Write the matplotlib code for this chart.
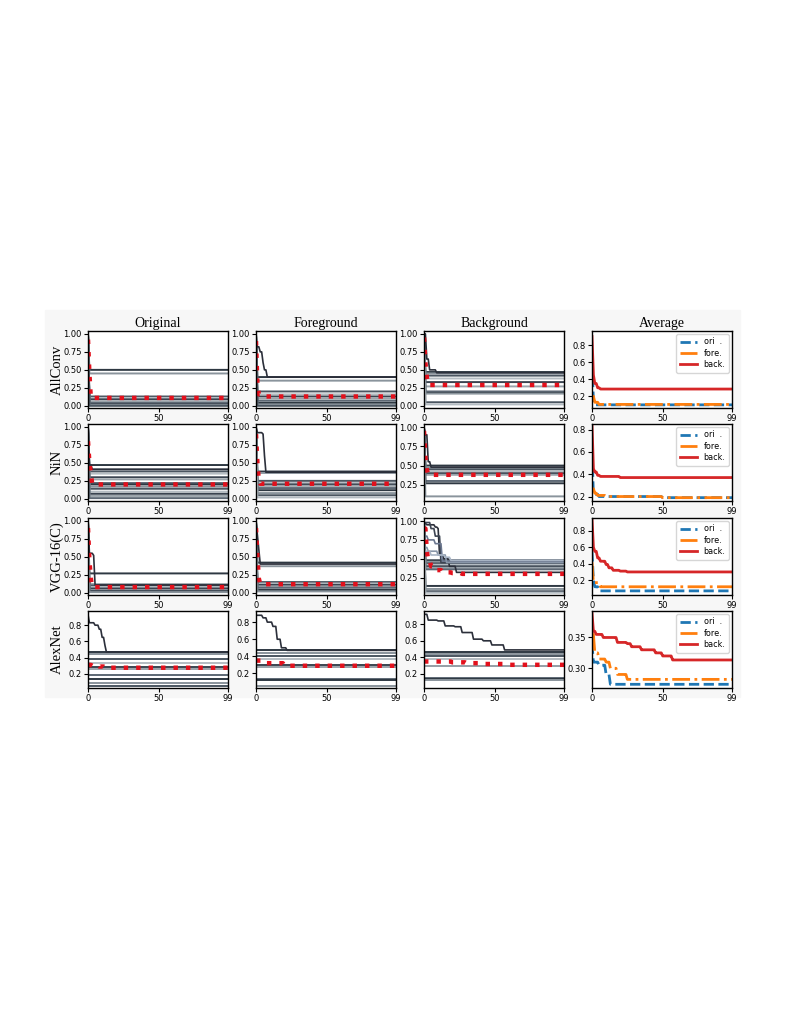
import numpy as np
import matplotlib.pyplot as plt
from matplotlib.patches import Rectangle

models = ["AllConv", "NiN", "VGG-16(C)", "AlexNet"]
columns = ["Original", "Foreground", "Background", "Average"]
legend_labels = ["ori  .", "fore.", "back."]

# flat gray curves (final level) per model, for the three image types
orig_levels = [
    [0.50, 0.45, 0.13, 0.11, 0.09, 0.06, 0.04, 0.02, 0.01, 0.00],
    [0.47, 0.41, 0.38, 0.35, 0.30, 0.27, 0.22, 0.20, 0.17, 0.14, 0.10, 0.07, 0.04, 0.01],
    [0.27, 0.12, 0.10, 0.08, 0.06, 0.04, 0.03, 0.02, 0.01],
    [0.47, 0.45, 0.38, 0.33, 0.28, 0.26, 0.19, 0.14, 0.09, 0.05],
]
fore_levels = [
    [0.40, 0.35, 0.20, 0.16, 0.13, 0.10, 0.07, 0.04, 0.02, 0.00],
    [0.38, 0.36, 0.25, 0.22, 0.20, 0.18, 0.15, 0.12, 0.08, 0.05, 0.02],
    [0.42, 0.37, 0.15, 0.13, 0.11, 0.09, 0.07, 0.04, 0.02],
    [0.47, 0.44, 0.40, 0.37, 0.30, 0.28, 0.14, 0.12, 0.05],
]
back_levels = [
    [0.47, 0.45, 0.42, 0.38, 0.33, 0.27, 0.20, 0.18, 0.17, 0.05, 0.02],
    [0.50, 0.47, 0.45, 0.42, 0.40, 0.38, 0.30, 0.27, 0.10],
    [0.48, 0.46, 0.44, 0.42, 0.40, 0.38, 0.36, 0.14, 0.10, 0.07, 0.05],
    [0.46, 0.44, 0.42, 0.38, 0.30, 0.29, 0.15, 0.14, 0.13],
]
# value at step 0 of the flat curves (None = flat from the start)
level_start = [1.0, 1.0, 1.0, None]

# slowly decaying curves: (steps where value changes, values)
orig_slow = [
    [],
    [([0, 1, 3], [1.0, 0.47, 0.41])],
    [([0, 1, 4, 5], [1.0, 0.55, 0.52, 0.11])],
    [([0, 1, 5, 8, 10, 12, 13], [0.93, 0.83, 0.80, 0.75, 0.65, 0.55, 0.47])],
]
fore_slow = [
    [([0, 1, 3, 5, 6, 8], [0.90, 0.82, 0.75, 0.60, 0.50, 0.40])],
    [([0, 1, 5, 6, 7], [1.0, 0.92, 0.90, 0.60, 0.37])],
    [([0, 1, 2, 3], [1.0, 0.80, 0.60, 0.40])],
    [([0, 5, 8, 12, 15, 18, 22], [0.88, 0.85, 0.80, 0.75, 0.60, 0.50, 0.47])],
]
back_slow = [
    [([0, 2, 4, 9], [1.0, 0.65, 0.50, 0.46])],
    [([0, 1, 3, 5], [1.0, 0.90, 0.55, 0.48])],
    [([0, 2, 8, 10, 11, 14, 18, 23], [0.97, 0.95, 0.92, 0.90, 0.55, 0.50, 0.40, 0.32]),
     ([0, 5, 8, 12], [0.98, 0.90, 0.80, 0.45]),
     ([0, 3, 8, 13], [0.80, 0.75, 0.70, 0.47]),
     ([0, 3, 10, 16], [0.65, 0.60, 0.55, 0.45]),
     ([0, 5, 15, 19], [0.60, 0.55, 0.52, 0.48])],
    [([0, 3, 10, 15, 22, 27, 35, 42, 48, 57],
      [0.92, 0.85, 0.84, 0.78, 0.77, 0.70, 0.62, 0.60, 0.55, 0.49])],
]

# mean curves (red dotted)
orig_mean = [
    ([0, 1, 2], [0.92, 0.45, 0.11]),
    ([0, 1, 2, 3], [0.80, 0.50, 0.36, 0.20]),
    ([0, 1, 2, 3], [0.90, 0.45, 0.20, 0.08]),
    ([0, 3, 5, 8, 12], [0.31, 0.30, 0.31, 0.29, 0.275]),
]
fore_mean = [
    ([0, 1, 2, 5], [0.90, 0.30, 0.16, 0.13]),
    ([0, 1, 2, 3], [0.90, 0.50, 0.25, 0.21]),
    ([0, 1, 2, 3], [0.90, 0.50, 0.20, 0.12]),
    ([0, 5, 20], [0.35, 0.32, 0.29]),
]
back_mean = [
    ([0, 1, 2, 3], [0.95, 0.60, 0.40, 0.29]),
    ([0, 1, 2, 3], [0.95, 0.60, 0.45, 0.38]),
    ([0, 2, 3, 5, 8, 13, 20, 27], [0.90, 0.60, 0.48, 0.40, 0.35, 0.32, 0.31, 0.30]),
    ([0, 10, 20, 30, 40, 60], [0.35, 0.35, 0.34, 0.33, 0.32, 0.31]),
]

# averages
avg_ori = [
    ([0, 1, 2], [0.60, 0.15, 0.10]),
    ([0, 1, 5, 50], [0.60, 0.22, 0.20, 0.19]),
    ([0, 1, 2, 5], [0.55, 0.20, 0.12, 0.07]),
    ([0, 1, 5, 10, 13], [0.34, 0.31, 0.305, 0.29, 0.274]),
]
avg_fore = [
    ([0, 2, 5], [0.20, 0.13, 0.105]),
    ([0, 2, 4, 10, 50], [0.27, 0.23, 0.21, 0.20, 0.19]),
    ([0, 1, 4, 6], [0.42, 0.17, 0.17, 0.12]),
    ([0, 2, 5, 10, 13, 18, 25], [0.355, 0.325, 0.315, 0.31, 0.30, 0.29, 0.282]),
]
avg_back = [
    ([0, 1, 2, 4, 6], [0.90, 0.45, 0.35, 0.30, 0.285]),
    ([0, 1, 2, 4, 6, 20], [0.85, 0.45, 0.42, 0.39, 0.38, 0.37]),
    ([0, 1, 2, 4, 6, 10, 12, 15, 20, 25],
     [0.95, 0.60, 0.55, 0.47, 0.43, 0.39, 0.35, 0.32, 0.31, 0.30]),
    ([0, 1, 3, 8, 18, 25, 28, 35, 45, 50, 57],
     [0.39, 0.36, 0.355, 0.35, 0.342, 0.34, 0.335, 0.33, 0.325, 0.32, 0.3135]),
]

n_steps = 100
steps = np.arange(n_steps)

grays = ["#2e3842", "#8a949c", "#4b5661", "#b4bcc2", "#3a4450", "#9aa3aa", "#5d6874"]
slow_colors = ["#2b2f3a", "#3c4452", "#6c7890", "#8896a8", "#a8b4c4"]


def expand(xs, ys):
    # hold each value from its step until the next change
    out = np.empty(n_steps)
    for i, x in enumerate(xs):
        out[x:] = ys[i]
    return out


fig = plt.figure(figsize=(7.89, 10.18), dpi=100)
fig.patches.append(Rectangle((45 / 789, 1 - 697 / 1018), 695 / 789, 387 / 1018,
                             transform=fig.transFigure, color="#f7f7f7", zorder=-10))

col_left = [88, 256, 424, 592]
row_top = [331, 424, 518, 611]
W, H = 140, 77

level_sets = [orig_levels, fore_levels, back_levels]
slow_sets = [orig_slow, fore_slow, back_slow]
mean_sets = [orig_mean, fore_mean, back_mean]

ylims = [
    [(-0.03, 1.04), (-0.03, 1.04), (-0.03, 1.04), (0.063, 0.965)],
    [(-0.03, 1.04), (-0.03, 1.04), (0.04, 1.04), (0.16, 0.85)],
    [(-0.03, 1.04), (-0.03, 1.04), (0.02, 1.04), (0.02, 0.955)],
    [(0.025, 0.975), (0.03, 0.93), (0.03, 0.96), (0.268, 0.393)],
]
yticks = [
    [[0, 0.25, 0.5, 0.75, 1.0]] * 3 + [[0.2, 0.4, 0.6, 0.8]],
    [[0, 0.25, 0.5, 0.75, 1.0]] * 2 + [[0.25, 0.5, 0.75, 1.0], [0.2, 0.4, 0.6, 0.8]],
    [[0, 0.25, 0.5, 0.75, 1.0]] * 2 + [[0.25, 0.5, 0.75, 1.0], [0.2, 0.4, 0.6, 0.8]],
    [[0.2, 0.4, 0.6, 0.8]] * 3 + [[0.30, 0.35]],
]
ytick_fmt = [
    ["%.2f"] * 3 + ["%.1f"],
    ["%.2f"] * 3 + ["%.1f"],
    ["%.2f"] * 3 + ["%.1f"],
    ["%.1f"] * 3 + ["%.2f"],
]

for r in range(4):
    for c in range(4):
        ax = fig.add_axes([col_left[c] / 789, 1 - (row_top[r] + H) / 1018, W / 789, H / 1018])
        if c < 3:
            for i, lv in enumerate(level_sets[c][r]):
                if level_start[r] is None:
                    y = expand([0], [lv])
                else:
                    y = expand([0, 1], [level_start[r], lv])
                ax.plot(steps, y, color=grays[i % len(grays)], lw=1.4)
            for i, (xs, ys) in enumerate(slow_sets[c][r]):
                ax.plot(steps, expand(xs, ys), color=slow_colors[i % len(slow_colors)], lw=1.2)
            mx, my = mean_sets[c][r]
            ax.plot(steps, expand(mx, my), color="#e3101c", lw=3.2, linestyle=(0, (1, 1.8)))
        else:
            ax.plot(steps, expand(*avg_ori[r]), color="#1f77b4", lw=2, linestyle="--",
                    label=legend_labels[0])
            ax.plot(steps, expand(*avg_fore[r]), color="#ff7f0e", lw=2, linestyle="-.",
                    label=legend_labels[1])
            ax.plot(steps, expand(*avg_back[r]), color="#d62728", lw=2,
                    label=legend_labels[2])
            ax.legend(loc="upper right", fontsize=5.8, handlelength=2.2,
                      borderaxespad=0.4, labelspacing=0.3)
        ax.set_xlim(0, 99)
        ax.set_xticks([0, 50, 99])
        ax.set_ylim(*ylims[r][c])
        ax.set_yticks(yticks[r][c])
        ax.set_yticklabels([ytick_fmt[r][c] % t for t in yticks[r][c]])
        ax.tick_params(labelsize=6, length=3, width=0.8, pad=1.5)
        for s in ax.spines.values():
            s.set_linewidth(1.0)
        if r == 0:
            ax.set_title(columns[c], fontsize=10, family="Liberation Serif", pad=3)
        if c == 0:
            fig.text(57 / 789, 1 - (row_top[r] + H / 2) / 1018, models[r], rotation=90,
                     fontsize=10.5, family="Liberation Serif", ha="center", va="center")

fig.savefig("out.png", dpi=100)
